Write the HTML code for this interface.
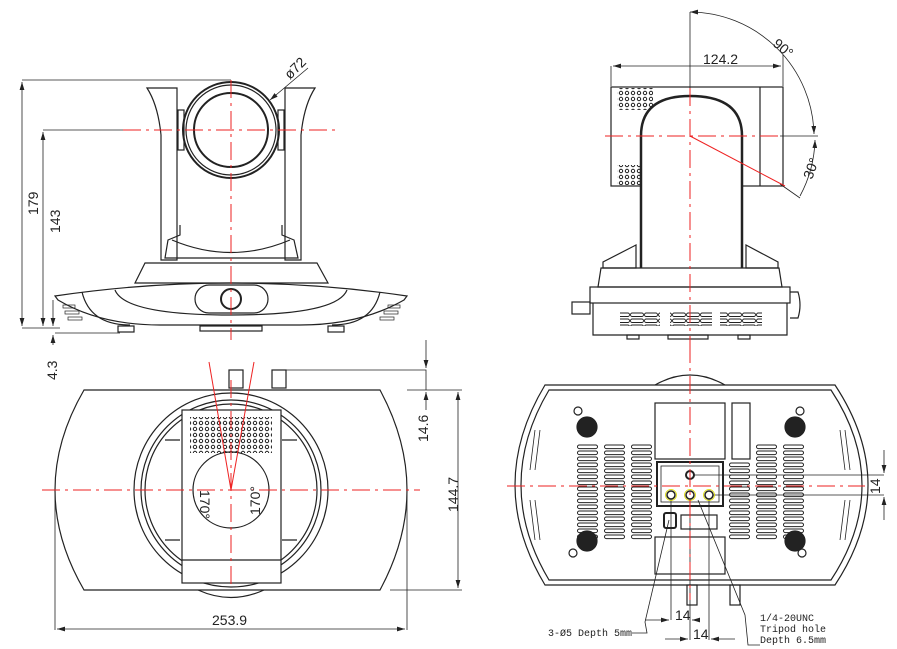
<!DOCTYPE html>
<html><head><meta charset="utf-8"><style>
html,body{margin:0;padding:0;background:#fff;width:897px;height:649px;overflow:hidden}
text{font-family:"Liberation Sans",sans-serif;fill:#222}
</style></head><body>
<svg width="897" height="649" viewBox="0 0 897 649" xmlns="http://www.w3.org/2000/svg">
<defs>
<marker id="a" markerWidth="10" markerHeight="6" refX="10" refY="3" orient="auto-start-reverse"><path d="M0,0 L10,3 L0,6 z" fill="#222"/></marker>
<pattern id="dots" width="6" height="6" patternUnits="userSpaceOnUse"><circle cx="3" cy="3" r="1.7" fill="none" stroke="#222" stroke-width="1"/></pattern>
<pattern id="slots" width="14" height="6" patternUnits="userSpaceOnUse"><rect x="0.5" y="1" width="13" height="3.5" rx="1.7" fill="none" stroke="#222" stroke-width="0.9"/></pattern>
<pattern id="bslots" x="577" y="444" width="27" height="6" patternUnits="userSpaceOnUse"><rect x="0.5" y="1" width="20" height="3.6" rx="1.8" fill="none" stroke="#222" stroke-width="1"/></pattern>
<pattern id="bslots2" x="729" y="444" width="27" height="6" patternUnits="userSpaceOnUse"><rect x="0.5" y="1" width="20" height="3.6" rx="1.8" fill="none" stroke="#222" stroke-width="1"/></pattern>
</defs>
<g fill="none" stroke="#222" stroke-width="1.2">
<!-- FRONT VIEW -->
<line x1="22" y1="80" x2="231" y2="80" stroke-width="0.8"/>
<line x1="22" y1="82" x2="22" y2="326" stroke-width="0.8" marker-start="url(#a)" marker-end="url(#a)"/>
<line x1="43" y1="130" x2="123" y2="130" stroke-width="0.8"/>
<line x1="43" y1="132" x2="43" y2="326" stroke-width="0.8" marker-start="url(#a)" marker-end="url(#a)"/>
<line x1="22" y1="328" x2="60" y2="328" stroke-width="0.8"/>
<line x1="55" y1="333" x2="120" y2="333" stroke-width="0.8"/>
<line x1="53" y1="300" x2="53" y2="326" stroke-width="0.8" marker-end="url(#a)"/>
<line x1="53" y1="345" x2="53" y2="335" stroke-width="0.8" marker-end="url(#a)"/>
<path d="M147,88 L177,88 L177,260 L161,260 L161,135 Q158,105 147,88 Z"/>
<path d="M315,88 L285,88 L285,260 L301,260 L301,135 Q304,105 315,88 Z"/>
<rect x="178" y="110" width="6" height="40"/><rect x="278" y="110" width="6" height="40"/>
<path d="M180,225 L180,235 L168,240 L165,258 L298,258 L294,240 L282,235 L282,225"/>
<path d="M172,240 Q231,265 290,240"/>
<circle cx="231" cy="130" r="48" stroke-width="2"/>
<circle cx="231" cy="130" r="45"/>
<circle cx="231" cy="130" r="37" stroke-width="2"/>
<path d="M270,100 L308,68" stroke-width="0.8" marker-start="url(#a)"/>
<path d="M145,263 L317,263 L328,283 L135,283 Z"/>
<path d="M55,296 Q231,270 407,296 L404,300 Q360,325 300,325 L160,325 Q100,325 58,300 Z"/>
<path d="M82,292 Q90,325 130,325"/><path d="M380,292 Q372,325 332,325"/>
<path d="M115,290 Q125,315 231,315 Q337,315 347,290"/>
<rect x="195" y="285" width="73" height="28" rx="14"/>
<circle cx="231" cy="299" r="10" stroke-width="2"/>
<rect x="118" y="326" width="16" height="6"/><rect x="328" y="326" width="16" height="6"/>
<rect x="200" y="326" width="62" height="5"/>
<g stroke-width="0.7"><rect x="63" y="305" width="12" height="3"/><rect x="65" y="311" width="14" height="3"/><rect x="68" y="317" width="14" height="3"/>
<rect x="388" y="305" width="12" height="3"/><rect x="384" y="311" width="14" height="3"/><rect x="380" y="317" width="14" height="3"/></g>
<!-- SIDE VIEW -->
<line x1="690" y1="12" x2="690" y2="100" stroke-width="0.8"/>
<line x1="611" y1="66" x2="611" y2="86" stroke-width="0.8"/><line x1="783" y1="55" x2="783" y2="86" stroke-width="0.8"/>
<line x1="613" y1="66" x2="781" y2="66" stroke-width="0.8" marker-start="url(#a)" marker-end="url(#a)"/>
<rect x="611" y="87" width="172" height="99"/>
<line x1="760" y1="87" x2="760" y2="186"/>
<rect x="617" y="88" width="36" height="22" fill="url(#dots)" stroke="none"/>
<rect x="617" y="165" width="24" height="20" fill="url(#dots)" stroke="none"/>
<path d="M641,268 L641,136 Q641,96 690,96 Q742,96 742,136 L742,268" fill="#fff" stroke-width="2.5"/>
<path d="M690,12 A125,125 0 0 1 814,134" stroke-width="0.8" marker-start="url(#a)" marker-end="url(#a)"/>
<path d="M815,140 A125,125 0 0 1 800,196" stroke-width="0.8" marker-start="url(#a)"/>
<line x1="780" y1="136" x2="818" y2="136" stroke-width="0.8"/>
<line x1="780" y1="184" x2="800" y2="198" stroke-width="0.8"/>
<path d="M603,268 L603,262 L636,245 L636,268 Z"/><path d="M778,268 L778,262 L746,245 L746,268 Z"/>
<path d="M601,268 L779,268 L782,287 L598,287 Z"/>
<rect x="590" y="287" width="200" height="16"/>
<path d="M593,303 L593,335 L787,335 L787,303"/>
<rect x="572" y="302" width="18" height="12"/>
<path d="M790,292 L798,292 Q802,305 798,318 L790,318"/>
<rect x="620" y="312" width="40" height="14" fill="url(#slots)" stroke="none"/>
<rect x="670" y="312" width="42" height="14" fill="url(#slots)" stroke="none"/>
<rect x="720" y="312" width="42" height="14" fill="url(#slots)" stroke="none"/>
<rect x="627" y="335" width="12" height="4"/><rect x="668" y="335" width="40" height="4"/><rect x="738" y="335" width="12" height="4"/>
<!-- TOP VIEW -->
<path d="M283,370 L426,370 L426,390" stroke-width="0.8"/>
<line x1="426" y1="340" x2="426" y2="368" stroke-width="0.8" marker-end="url(#a)"/>
<line x1="407" y1="390" x2="462" y2="390" stroke-width="0.8"/>
<line x1="426" y1="410" x2="426" y2="392" stroke-width="0.8" marker-end="url(#a)"/>
<line x1="390" y1="590" x2="462" y2="590" stroke-width="0.8"/>
<line x1="458" y1="392" x2="458" y2="588" stroke-width="0.8" marker-start="url(#a)" marker-end="url(#a)"/>
<line x1="55" y1="490" x2="55" y2="630" stroke-width="0.8"/><line x1="407" y1="490" x2="407" y2="630" stroke-width="0.8"/>
<line x1="57" y1="629" x2="405" y2="629" stroke-width="0.8" marker-start="url(#a)" marker-end="url(#a)"/>
<path d="M84,390 L380,390 Q407,440 407,490 Q407,540 380,590 L84,590 Q55,540 55,490 Q55,440 84,390 Z"/>
<circle cx="231" cy="490" r="97"/><circle cx="231" cy="490" r="90"/><circle cx="231" cy="490" r="86"/>
<rect x="229" y="370" width="14" height="18"/><rect x="272" y="370" width="14" height="18"/>
<rect x="182" y="410" width="99" height="173" fill="#fff"/>
<line x1="182" y1="560" x2="281" y2="560"/>
<rect x="190" y="417" width="82" height="36" fill="url(#dots)" stroke="none"/>
<circle cx="231" cy="490" r="38"/>
<path d="M198,590 Q231,605 264,590"/>
<path d="M165,440 L180,440 M165,540 L180,540 M282,440 L297,440 M282,540 L297,540"/>
<!-- BOTTOM VIEW -->
<path d="M545,385 L835,385 Q868,435 868,485 Q868,535 835,585 L545,585 Q515,535 515,485 Q515,435 545,385 Z"/>
<path d="M549,390 L831,390 Q862,437 862,485 Q862,533 831,580 L549,580 Q521,533 521,485 Q521,437 549,390 Z"/>
<path d="M655,385 Q690,365 725,385"/>
<circle cx="587" cy="427" r="10" fill="#222"/><circle cx="795" cy="427" r="10" fill="#222"/>
<circle cx="587" cy="541" r="10" fill="#222"/><circle cx="795" cy="541" r="10" fill="#222"/>
<circle cx="578" cy="411" r="4"/><circle cx="800" cy="411" r="4"/><circle cx="573" cy="553" r="4"/><circle cx="802" cy="553" r="4"/>
<rect x="655" y="403" width="70" height="56"/><rect x="732" y="403" width="18" height="56"/>
<rect x="577" y="444" width="76" height="96" fill="url(#bslots)" stroke="none"/>
<rect x="729" y="462" width="22" height="78" fill="url(#bslots2)" stroke="none"/>
<rect x="756" y="444" width="50" height="96" fill="url(#bslots2)" stroke="none"/>
<rect x="657" y="462" width="66" height="44" stroke-width="2"/>
<rect x="661" y="466" width="58" height="36" stroke-width="0.8"/>
<circle cx="690" cy="475" r="4" stroke-width="2"/>
<circle cx="671" cy="495" r="4" stroke-width="1.5"/><circle cx="690" cy="495" r="4" stroke-width="1.5"/><circle cx="709" cy="495" r="4" stroke-width="1.5"/>
<rect x="664" y="513" width="12" height="15" rx="2" stroke-width="2"/>
<rect x="681" y="515" width="36" height="14"/>
<rect x="655" y="537" width="70" height="37"/>
<rect x="687" y="585" width="10" height="20"/><rect x="730" y="585" width="10" height="20"/>
<g stroke-width="0.8"><path d="M535,430 L530,470 M540,430 L535,470 M530,500 L535,540 M535,500 L540,540 M845,430 L850,470 M840,430 L845,470 M850,500 L845,540 M845,500 L840,540"/></g>
<line x1="694" y1="475" x2="884" y2="475" stroke-width="0.8"/><line x1="713" y1="495" x2="884" y2="495" stroke-width="0.8"/>
<line x1="884" y1="450" x2="884" y2="473" stroke-width="0.8" marker-end="url(#a)"/>
<line x1="884" y1="520" x2="884" y2="497" stroke-width="0.8" marker-end="url(#a)"/>
<g stroke-width="0.8">
<line x1="671" y1="499" x2="671" y2="620"/><line x1="690" y1="499" x2="690" y2="640"/><line x1="709" y1="499" x2="709" y2="640"/>
<line x1="645" y1="620" x2="669" y2="620" marker-end="url(#a)"/><line x1="700" y1="620" x2="692" y2="620" marker-end="url(#a)"/>
<line x1="665" y1="639" x2="688" y2="639" marker-end="url(#a)"/><line x1="735" y1="639" x2="711" y2="639" marker-end="url(#a)"/>
<path d="M669,520 L645,622 L647,633 L632,633"/>
<path d="M698,500 L745,615 L748,645 L760,645"/>
</g>
</g>
<g stroke="#dd0" stroke-width="0.8" fill="none"><circle cx="671" cy="495" r="5.5"/><circle cx="690" cy="495" r="5.5"/><circle cx="709" cy="495" r="5.5"/></g>
<!-- red centerlines -->
<g stroke="#e22" stroke-width="1" fill="none" stroke-dasharray="18,5,3,5">
<line x1="123" y1="130" x2="340" y2="130"/><line x1="231" y1="80" x2="231" y2="340"/>
<line x1="605" y1="136" x2="783" y2="136"/><line x1="690" y1="88" x2="690" y2="345"/>
<line x1="42" y1="490" x2="420" y2="490"/><line x1="231" y1="380" x2="231" y2="585"/>
<line x1="507" y1="486" x2="865" y2="486"/><line x1="690" y1="345" x2="690" y2="600"/>
</g>
<g stroke="#e22" stroke-width="1">
<line x1="690" y1="136" x2="785" y2="186"/>
<line x1="209" y1="362" x2="231" y2="490"/><line x1="254" y1="362" x2="231" y2="490"/>
</g>
<g font-size="14">
<text transform="translate(38,215) rotate(-90)">179</text>
<text transform="translate(60,233) rotate(-90)">143</text>
<text transform="translate(57,380) rotate(-90)">4.3</text>
<text transform="translate(290,80) rotate(-45)">ø72</text>
<text x="703" y="64">124.2</text>
<text transform="translate(772,45) rotate(40)">90°</text>
<text transform="translate(812,180) rotate(-70)">30°</text>
<text transform="translate(200,490) rotate(90)">170°</text>
<text transform="translate(260,515) rotate(-90)">170°</text>
<text transform="translate(428,442) rotate(-90)">14.6</text>
<text transform="translate(458,512) rotate(-90)">144.7</text>
<text x="212" y="625">253.9</text>
<text transform="translate(880,494) rotate(-90)">14</text>
<text x="675" y="620">14</text><text x="693" y="639">14</text>
</g>
<g font-size="10">
<text x="548" y="636" style="font-family:'Liberation Mono',monospace">3-Ø5 Depth 5mm</text>
<text x="760" y="621" style="font-family:'Liberation Mono',monospace">1/4-20UNC</text>
<text x="760" y="632" style="font-family:'Liberation Mono',monospace">Tripod hole</text>
<text x="760" y="643" style="font-family:'Liberation Mono',monospace">Depth 6.5mm</text>
</g>
</svg>
</body></html>
